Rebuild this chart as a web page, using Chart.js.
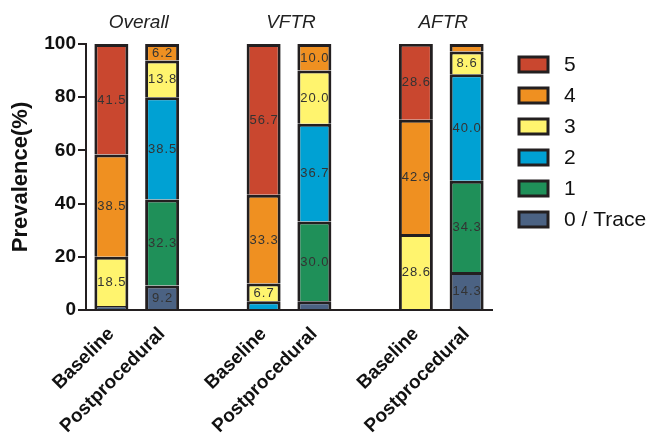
<!DOCTYPE html>
<html>
<head>
<meta charset="utf-8">
<script src="https://cdn.jsdelivr.net/npm/chart.js@4.4.1/dist/chart.umd.min.js"></script>
<style>
html,body{margin:0;padding:0;background:#fff;}
#wrap{width:652px;height:434px;position:relative;}
</style>
</head>
<body>
<div id="wrap"><canvas id="c" width="652" height="434"></canvas></div>
<script>
const categories = ['Baseline','Postprocedural','','Baseline','Postprocedural','','Baseline','Postprocedural'];
const groups = ['Overall','VFTR','AFTR'];
const yTicks = [0,20,40,60,80,100];
const seriesNames = ['0 / Trace','1','2','3','4','5'];
const trace0 = [1.5, 9.2, null, null, 3.3, null, null, 14.3];
const grade1 = [null, 32.3, null, null, 30.0, null, null, 34.3];
const grade2 = [null, 38.5, null, 3.3, 36.7, null, null, 40.0];
const grade3 = [18.5, 13.8, null, 6.7, 20.0, null, 28.6, 8.6];
const grade4 = [38.5, 6.2, null, 33.3, 10.0, null, 42.9, 2.8];
const grade5 = [41.5, null, null, 56.7, null, null, 28.6, null];
const colors = ['#4B6283','#1F9059','#00A1D3','#FFF46E','#EF9021','#C9472F'];

const FONT = 'Arial, "Liberation Sans", Helvetica, sans-serif';
const seriesData = [trace0, grade1, grade2, grade3, grade4, grade5];
const datasets = seriesData.map((d,i)=>({
  label: seriesNames[i],
  data: d,
  backgroundColor: colors[i],
  borderColor: '#231F20',
  borderWidth: 3,
  borderSkipped: 'start',
  categoryPercentage: 1.0,
  barPercentage: 0.67
}));

const valueLabels = {
  id:'valueLabels',
  afterDatasetsDraw(chart){
    const ctx = chart.ctx;
    ctx.save();
    ctx.font = '13px ' + FONT;
    ctx.fillStyle = '#333';
    ctx.textAlign = 'center';
    ctx.textBaseline = 'middle';
    try{ ctx.letterSpacing = '1px'; }catch(e){}
    chart.data.datasets.forEach((ds,di)=>{
      const meta = chart.getDatasetMeta(di);
      meta.data.forEach((el,i)=>{
        const v = ds.data[i];
        if(v==null || v<5) return;
        const yc = (el.y + el.base)/2;
        ctx.fillText(v.toFixed(1), el.x+0.5, yc+1);
      });
    });
    ctx.restore();
  }
};

const groupTitles = {
  id:'groupTitles',
  afterDraw(chart){
    const ctx = chart.ctx;
    const xs = chart.scales.x;
    ctx.save();
    ctx.font = 'italic 19px ' + FONT;
    ctx.fillStyle = '#222';
    ctx.textAlign = 'center';
    ctx.textBaseline = 'middle';
    groups.forEach((g,gi)=>{
      const x = (xs.getPixelForValue(gi*3) + xs.getPixelForValue(gi*3+1))/2;
      ctx.fillText(g, x+2, 23);
    });
    ctx.restore();
  }
};

const customLegend = {
  id:'customLegend',
  afterDraw(chart){
    const ctx = chart.ctx;
    ctx.save();
    ctx.font = '21px ' + FONT;
    ctx.textBaseline = 'middle';
    ctx.textAlign = 'left';
    const n = chart.data.datasets.length;
    for(let k=0;k<n;k++){
      const ds = chart.data.datasets[n-1-k];
      const y = 57 + k*31;
      ctx.fillStyle = ds.backgroundColor;
      ctx.fillRect(519, y, 29, 15);
      ctx.strokeStyle = '#231F20';
      ctx.lineWidth = 3;
      ctx.strokeRect(519, y, 29, 15);
      ctx.fillStyle = '#111';
      ctx.fillText(ds.label, 564, y+8);
    }
    ctx.restore();
  }
};

new Chart(document.getElementById('c'), {
  type:'bar',
  data:{ labels: categories, datasets },
  options:{
    responsive:false,
    animation:false,
    layout:{ padding:{ top:44, right:160, bottom:0, left:0 } },
    plugins:{ legend:{display:false}, tooltip:{enabled:false} },
    scales:{
      x:{
        stacked:true,
        grid:{ display:false },
        border:{ display:true, color:'#231F20', width:2 },
        ticks:{
          color:'#111',
          font:{ family:FONT, size:19, weight:'bold' },
          maxRotation:45, minRotation:45, autoSkip:false, padding:5
        },
        afterFit(s){ s.height = 124; }
      },
      y:{
        stacked:true,
        min:0, max:100,
        afterBuildTicks(s){ s.ticks = yTicks.map(v=>({value:v})); },
        grid:{ display:true, drawOnChartArea:false, drawTicks:true, tickLength:8, color:'#231F20', lineWidth:2 },
        border:{ display:true, color:'#231F20', width:2 },
        ticks:{
          color:'#111',
          font:{ family:FONT, size:19, weight:'bold' },
          padding:2
        },
        title:{
          display:true, text:'Prevalence(%)', color:'#111',
          font:{ family:FONT, size:22, weight:'bold' },
          padding:{top:8,bottom:4}
        },
        afterFit(s){ s.width = 86; }
      }
    }
  },
  plugins:[valueLabels, groupTitles, customLegend]
});
</script>
</body>
</html>
